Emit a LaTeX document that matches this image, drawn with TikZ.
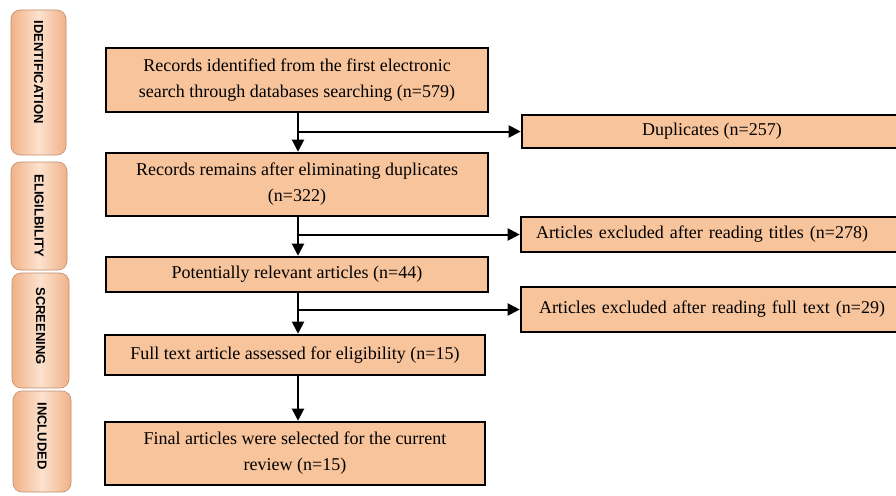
\documentclass[tikz,border=0pt]{standalone}
\usepackage{fontspec}
\setmainfont{Liberation Serif}
\setsansfont{Liberation Sans}
\usetikzlibrary{arrows.meta}
\definecolor{boxfill}{RGB}{248,196,156}
\definecolor{sideout}{RGB}{240,178,136}
\definecolor{sidein}{RGB}{252,226,206}
\tikzset{
  flowbox/.style={draw=black, line width=2.6pt, fill=boxfill, align=center, inner sep=0pt,
     font=\fontsize{18}{26}\selectfont},
  sidebox/.style={draw=sideout!80!black, line width=0.6pt, rounded corners=9pt,
     left color=sideout, right color=sideout, middle color=sidein},
  sidetext/.style={rotate=-90, font=\sffamily\bfseries\fontsize{13}{15}\selectfont},
  flowarrow/.style={line width=2pt, -{Triangle[length=12pt,width=12pt]}}
}
\begin{document}
\begin{tikzpicture}[x=1pt,y=-1pt]
\useasboundingbox (0,0) rectangle (896,495);
\clip (0,0) rectangle (896,495);
\fill[white] (0,0) rectangle (896,495);
% side stage labels
\path[sidebox] (11,10) rectangle (66,155);
\node[sidetext] (sid) at (38.5,72) {IDENTIFICATION};
\path[sidebox] (11,162) rectangle (67,270);
\node[sidetext] (sel) at (39,216) {ELIGILBILITY};
\path[sidebox] (12,273) rectangle (69,388);
\node[sidetext] (ssc) at (40.5,326) {SCREENING};
\path[sidebox] (13,391) rectangle (71,492);
\node[sidetext] (sin) at (42,436) {INCLUDED};
% main column
\node[flowbox, minimum width=382pt, minimum height=64pt] (b1) at (297,80)
  {Records identified from the first electronic\\search through databases searching (n=579)};
\node[flowbox, minimum width=382pt, minimum height=63pt] (b2) at (297,184.5)
  {Records remains after eliminating duplicates\\(n=322)};
\node[flowbox, minimum width=382pt, minimum height=35pt] (b3) at (297,274.5)
  {Potentially relevant articles (n=44)};
\node[flowbox, minimum width=380pt, minimum height=40pt] (b4) at (295,355)
  {Full text article assessed for eligibility (n=15)};
\node[flowbox, minimum width=380pt, minimum height=63pt] (b5) at (295,453.5)
  {Final articles were selected for the current\\review (n=15)};
% right column
\node[flowbox, minimum width=380pt, minimum height=33pt] (dup) at (712,131.5)
  {Duplicates (n=257)};
\node[flowbox, minimum width=380pt, minimum height=35pt, text width=360pt, align=left] (tit) at (711,234.5)
  {\hspace*{5pt}Articles excluded after reading titles (n=278)};
\node[flowbox, minimum width=380pt, minimum height=45pt, text width=360pt, align=left] (ful) at (711,309.5)
  {\hspace*{8pt}Articles excluded after reading full text (n=29)};
% vertical connectors
\coordinate (ax) at (298,0);
\draw[flowarrow] (ax |- b1.south) -- (ax |- b2.north);
\draw[flowarrow] (ax |- b2.south) -- (ax |- b3.north);
\draw[flowarrow] (ax |- b3.south) -- (ax |- b4.north);
\draw[flowarrow] (ax |- b4.south) -- (ax |- b5.north);
% side branches
\draw[flowarrow] (ax |- dup.west) -- (dup.west);
\draw[flowarrow] (ax |- tit.west) -- (tit.west);
\draw[flowarrow] (ax |- ful.west) -- (ful.west);
\end{tikzpicture}
\end{document}
